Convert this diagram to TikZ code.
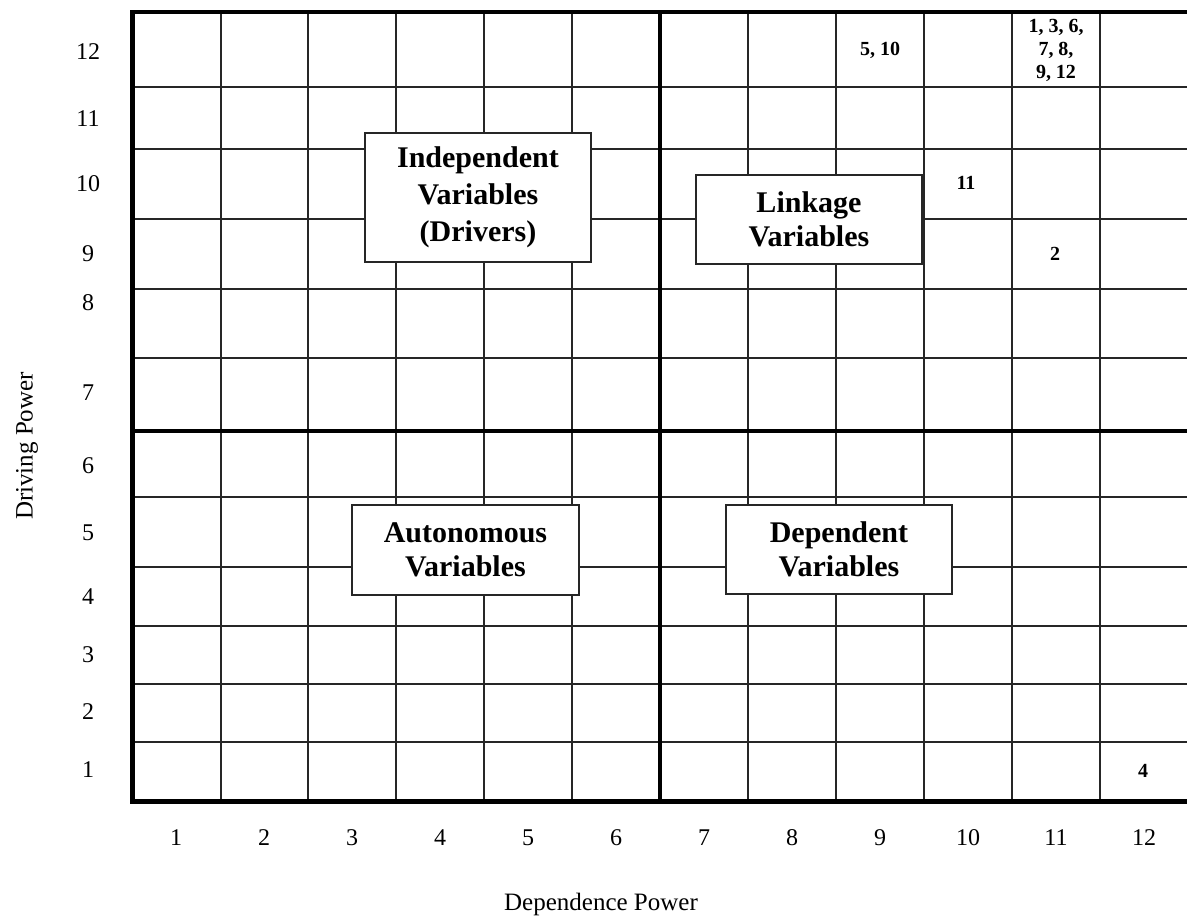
\documentclass[tikz,border=0pt]{standalone}
\usepackage{fontspec}
\setmainfont{Liberation Serif}
\begin{document}
\begin{tikzpicture}[x=1pt,y=-1pt,
  gridline/.style={line width=1.4pt,draw=black!85},
  heavyline/.style={line width=4.6pt,draw=black,line join=miter},
  quadbox/.style={draw=black!85,line width=1.8pt,fill=white,align=center,inner sep=0pt,
    font=\fontsize{30}{34}\selectfont\bfseries},
  axisnum/.style={font=\fontsize{24}{28}\selectfont,inner sep=0pt},
  pointlbl/.style={font=\fontsize{20}{23}\selectfont\bfseries,align=center,inner sep=0pt},
  axistitle/.style={font=\fontsize{25}{30}\selectfont,inner sep=0pt}]
\useasboundingbox (0,0) rectangle (1187,919);
% thin grid
\foreach \x in {221,308,396,484,572,748,836,924,1012,1100}
  \draw[gridline] (\x,12) -- (\x,801.5);
\foreach \y in {87,149,219,289,358,497,567,626,684,742}
  \draw[gridline] (132.5,\y) -- (1187,\y);
% heavy lines
\draw[heavyline] (1187,12) -- (132.5,12) -- (132.5,801.5) -- (1187,801.5);
\draw[heavyline] (660,12) -- (660,801.5);
\draw[heavyline] (132.5,431) -- (1187,431);
% quadrant boxes
\node[quadbox,minimum width=226pt,minimum height=129pt,
  font=\fontsize{30}{37}\selectfont\bfseries] (indep) at (478,197.5) {Independent\\Variables\\(Drivers)};
\node[quadbox,minimum width=226pt,minimum height=89pt] (link) at (809,219.5) {Linkage\\Variables};
\node[quadbox,minimum width=227pt,minimum height=90pt] (auto) at (465.5,550) {Autonomous\\Variables};
\node[quadbox,minimum width=226pt,minimum height=89pt] (dep) at (839,549.5) {Dependent\\Variables};
% point labels
\node[pointlbl] (p510) at (880,50) {5, 10};
\node[pointlbl] (pmany) at (1056,50) {1, 3, 6,\\7, 8,\\9, 12};
\node[pointlbl] (p11) at (966,183) {11};
\node[pointlbl] (p2) at (1055,254) {2};
\node[pointlbl] (p4) at (1143,771) {4};
% y axis numbers
\node[axisnum] (y12) at (88,51.5) {12};
\node[axisnum] (y11) at (88,118.5) {11};
\node[axisnum] (y10) at (88,184) {10};
\node[axisnum] (y9) at (88,253.5) {9};
\node[axisnum] (y8) at (88,303) {8};
\node[axisnum] (y7) at (88,393) {7};
\node[axisnum] (y6) at (88,466) {6};
\node[axisnum] (y5) at (88,533) {5};
\node[axisnum] (y4) at (88,596.5) {4};
\node[axisnum] (y3) at (88,655) {3};
\node[axisnum] (y2) at (88,712) {2};
\node[axisnum] (y1) at (88,770) {1};
% x axis numbers
\foreach \i in {1,...,12}
  \node[axisnum] (x\i) at ({88+88*\i},838) {\i};
% axis titles
\node[axistitle] (xtitle) at (601,904) {Dependence Power};
\node[axistitle,rotate=90] (ytitle) at (27,446) {Driving Power};
\end{tikzpicture}
\end{document}
